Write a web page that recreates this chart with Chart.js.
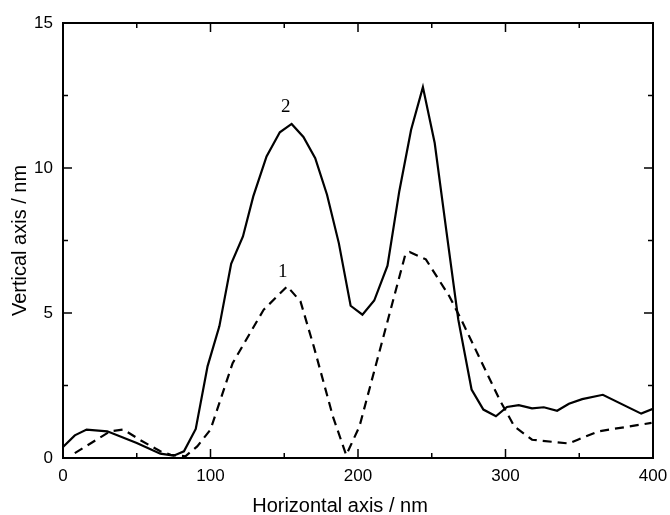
<!DOCTYPE html>
<html>
<head>
<meta charset="utf-8">
<script src="https://cdn.jsdelivr.net/npm/chart.js@4.4.1/dist/chart.umd.min.js"></script>
<style>
    html, body { margin: 0; padding: 0; background: #fff; }
    #wrap { width: 670px; height: 515px; }
</style>
</head>
<body>
<div id="wrap"><canvas id="chart" width="670" height="515"></canvas></div>
<script>
// Profile 2 (solid line)
const solidX = [0, 8, 16, 30, 50, 66, 75, 82, 90, 98, 106, 114, 122, 129, 138, 147, 155, 163, 171, 179, 187, 195, 203, 211, 220, 228, 236, 244, 252, 260, 268, 277, 285, 293.5, 301, 309, 318, 326, 335, 343, 352, 366, 392, 400];
const solidY = [0.38, 0.78, 0.98, 0.92, 0.52, 0.15, 0.08, 0.23, 1.0, 3.16, 4.54, 6.7, 7.64, 9.02, 10.4, 11.23, 11.52, 11.07, 10.34, 9.08, 7.41, 5.25, 4.94, 5.43, 6.63, 9.2, 11.32, 12.79, 10.86, 7.8, 4.77, 2.36, 1.67, 1.44, 1.76, 1.82, 1.71, 1.75, 1.63, 1.87, 2.03, 2.18, 1.53, 1.7];

// Profile 1 (dashed line)
const dashedX = [8, 32, 41, 52, 66, 73, 83, 91, 100, 115, 136, 152, 161, 170, 183, 192, 201, 232, 235, 246, 262, 270, 296, 306, 318, 343, 349, 363, 399];
const dashedY = [0.17, 0.92, 0.98, 0.63, 0.23, 0.11, 0.06, 0.4, 0.98, 3.27, 5.11, 5.92, 5.4, 3.85, 1.43, 0.1, 1.09, 7.0, 7.1, 6.85, 5.57, 4.77, 2.01, 1.09, 0.63, 0.5, 0.63, 0.92, 1.21];

// Curve numbers written next to the peaks
const curveLabels = ['2', '1'];
const curveLabelX = [151, 149];
const curveLabelY = [12.1, 6.4];

const xTicks = [0, 100, 200, 300, 400];
const yTicks = [0, 5, 10, 15];

function toPoints(xs, ys) {
    return xs.map((x, i) => ({ x: x, y: ys[i] }));
}

// Frame, inward ticks on all four sides, axis titles and curve numbers
const framePlugin = {
    id: 'frame',
    afterDraw(chart) {
        const ctx = chart.ctx;
        const area = chart.chartArea;
        const sx = chart.scales.x;
        const sy = chart.scales.y;

        ctx.save();
        ctx.strokeStyle = '#000';
        ctx.lineWidth = 2;
        ctx.strokeRect(area.left, area.top, area.right - area.left, area.bottom - area.top);

        ctx.lineWidth = 1.5;
        ctx.beginPath();
        for (let v = 0; v <= 400; v += 50) {
            const px = sx.getPixelForValue(v);
            const len = v % 100 === 0 ? 9 : 5;
            ctx.moveTo(px, area.bottom);
            ctx.lineTo(px, area.bottom - len);
            ctx.moveTo(px, area.top);
            ctx.lineTo(px, area.top + len);
        }
        for (let v = 0; v <= 15; v += 2.5) {
            const py = sy.getPixelForValue(v);
            const len = v % 5 === 0 ? 9 : 5;
            ctx.moveTo(area.left, py);
            ctx.lineTo(area.left + len, py);
            ctx.moveTo(area.right, py);
            ctx.lineTo(area.right - len, py);
        }
        ctx.stroke();

        // axis titles
        ctx.fillStyle = '#000';
        ctx.font = '20px "Liberation Sans", Arial, sans-serif';
        ctx.textAlign = 'center';
        ctx.textBaseline = 'middle';
        ctx.fillText('Horizontal axis / nm', 340, 506);
        ctx.save();
        ctx.translate(20, (area.top + area.bottom) / 2);
        ctx.rotate(-Math.PI / 2);
        ctx.fillText('Vertical axis / nm', 0, 0);
        ctx.restore();

        // curve numbers
        ctx.font = '19px "Liberation Serif", "Times New Roman", serif';
        curveLabels.forEach((t, i) => {
            ctx.fillText(t, sx.getPixelForValue(curveLabelX[i]), sy.getPixelForValue(curveLabelY[i]));
        });
        ctx.restore();
    }
};

const tickFont = { family: '"Liberation Sans", Arial, sans-serif', size: 17 };

new Chart(document.getElementById('chart').getContext('2d'), {
    type: 'line',
    data: {
        datasets: [{
            label: '2',
            data: toPoints(solidX, solidY),
            borderColor: '#000',
            borderWidth: 2.2,
            pointRadius: 0,
            tension: 0,
            fill: false
        }, {
            label: '1',
            data: toPoints(dashedX, dashedY),
            borderColor: '#000',
            borderWidth: 2.2,
            borderDash: [9, 6],
            pointRadius: 0,
            tension: 0,
            fill: false
        }]
    },
    options: {
        responsive: false,
        animation: false,
        plugins: {
            legend: { display: false },
            tooltip: { enabled: false }
        },
        layout: {
            padding: { top: 23, right: 17, left: 0, bottom: 0 }
        },
        scales: {
            x: {
                type: 'linear',
                min: 0,
                max: 400,
                afterFit: scale => {
                    scale.height = 57;
                    // let the "400" label hang into the right margin
                    scale.paddingLeft = 0;
                    scale.paddingRight = 0;
                },
                afterBuildTicks: scale => { scale.ticks = xTicks.map(v => ({ value: v })); },
                ticks: { color: '#000', font: tickFont, padding: 8, maxRotation: 0 },
                grid: { display: false, drawTicks: false },
                border: { display: false }
            },
            y: {
                type: 'linear',
                min: 0,
                max: 15,
                afterFit: scale => {
                    scale.width = 63;
                    scale.paddingTop = 0;
                    scale.paddingBottom = 0;
                },
                afterBuildTicks: scale => { scale.ticks = yTicks.map(v => ({ value: v })); },
                ticks: { color: '#000', font: tickFont, padding: 10 },
                grid: { display: false, drawTicks: false },
                border: { display: false }
            }
        }
    },
    plugins: [framePlugin]
});
</script>
</body>
</html>
